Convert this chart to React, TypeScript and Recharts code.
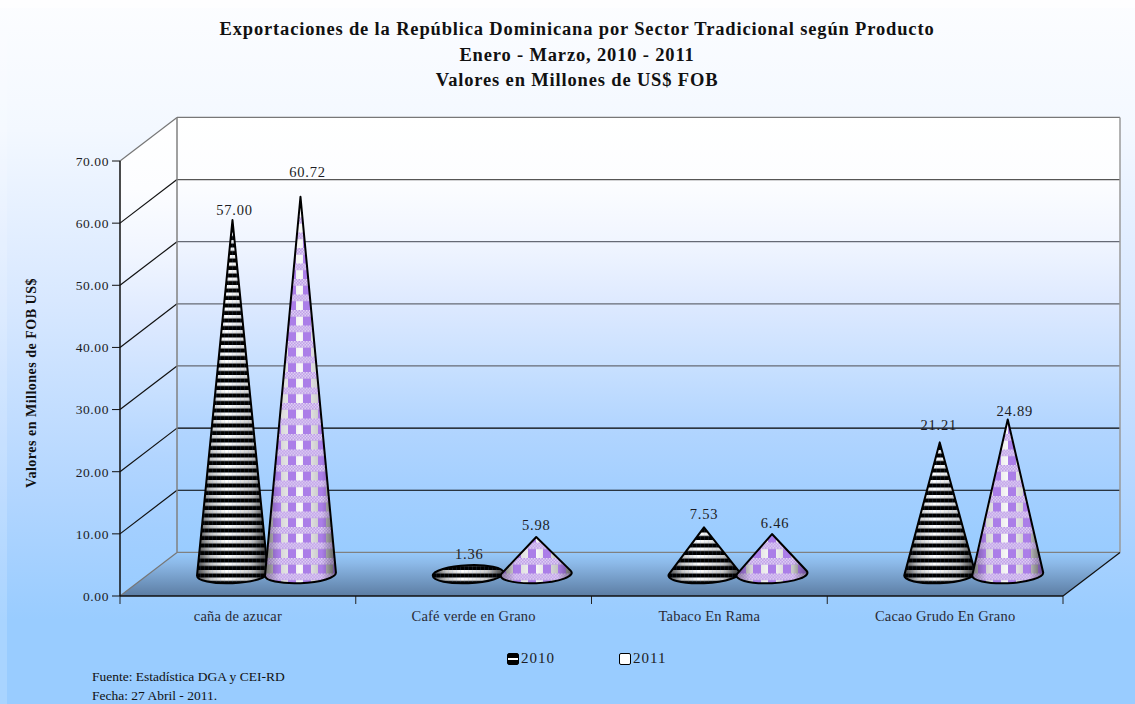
import React from 'react';
import { BarChart, Bar, XAxis, YAxis, Legend, LabelList, Customized } from 'recharts';

const categories = ['caña de azucar', 'Café verde en Grano', 'Tabaco En Rama', 'Cacao Grudo En Grano'];
const values2010 = [57.0, 1.36, 7.53, 21.21];
const values2011 = [60.72, 5.98, 6.46, 24.89];
const yTicks = [0, 10, 20, 30, 40, 50, 60, 70];
const titleLines = [
  'Exportaciones de la República Dominicana por Sector Tradicional según Producto',
  'Enero - Marzo, 2010 - 2011',
  'Valores en Millones de US$ FOB',
];
const yAxisTitle = 'Valores en Millones de FOB US$';
const footerLines = ['Fuente: Estadística DGA y CEI-RD', 'Fecha: 27 Abril - 2011.'];

const table = categories.map((name, i) => ({ name, y2010: values2010[i], y2011: values2011[i] }));

const W = 1135;
const H = 704;
const LEFT = 120;
const RIGHT = 1063;
const TOP = 161;
const BOTTOM = 596;
const DX = 57;
const DY = 43.6;
const YMAX = 70;
const FONT = '"Liberation Serif", serif';
const TXT = '#1c1c24';

const labelNudge2010 = [[2, -9], [1, -11], [0, -12], [-1, -16]];
const labelNudge2011 = [[7, -24], [0, -11], [3, -10], [7, -8]];
const backGridColors = ['#808080', '#000000', '#000000', '#666a75', '#666a75', '#666a75', '#555555', '#777777'];
const sideGridColors = ['#777777', '#111', '#111', '#111', '#111', '#111', '#111', '#777777'];
const legendX = [507, 619];

const yOf = (v: number) => BOTTOM - ((BOTTOM - TOP) * v) / YMAX;

function Defs() {
  const dots = [];
  for (let x = 0; x < 15; x += 3) {
    for (let y = 0; y < 6; y += 3) {
      dots.push(<rect key={`a${x}-${y}`} x={x} y={y} width={1.5} height={1.5} fill="#e2d2f6" />);
      dots.push(<rect key={`b${x}-${y}`} x={x + 1.5} y={y + 1.5} width={1.5} height={1.5} fill="#e2d2f6" />);
    }
  }
  return (
    <defs>
      <linearGradient id="wall" x1="0" y1="0" x2="0" y2="1">
        <stop offset="0" stopColor="#ffffff" />
        <stop offset="0.15" stopColor="#fcfdff" />
        <stop offset="0.29" stopColor="#f0f5ff" />
        <stop offset="0.43" stopColor="#dde9ff" />
        <stop offset="0.57" stopColor="#c8e0ff" />
        <stop offset="0.71" stopColor="#b2d5ff" />
        <stop offset="0.86" stopColor="#a3cfff" />
        <stop offset="1" stopColor="#99ccff" />
      </linearGradient>
      <linearGradient id="floor" x1="0" y1="0" x2="0" y2="1">
        <stop offset="0" stopColor="#97c9fb" />
        <stop offset="0.25" stopColor="#8cb9e8" />
        <stop offset="1" stopColor="#5c7da3" />
      </linearGradient>
      <linearGradient id="shade10" x1="0" y1="0" x2="1" y2="0">
        <stop offset="0" stopColor="#777" />
        <stop offset="0.15" stopColor="#bbb" />
        <stop offset="0.42" stopColor="#fff" />
        <stop offset="0.75" stopColor="#ccc" />
        <stop offset="1" stopColor="#666" />
      </linearGradient>
      <linearGradient id="shade11" x1="0" y1="0" x2="1" y2="0">
        <stop offset="0" stopColor="#aaa" />
        <stop offset="0.25" stopColor="#dcdcdc" />
        <stop offset="0.5" stopColor="#f8f8f8" />
        <stop offset="0.78" stopColor="#c8c8c8" />
        <stop offset="1" stopColor="#999" />
      </linearGradient>
      <linearGradient id="edge" x1="0" y1="0" x2="1" y2="0">
        <stop offset="0" stopColor="#000" stopOpacity="0.35" />
        <stop offset="0.2" stopColor="#000" stopOpacity="0" />
        <stop offset="0.8" stopColor="#000" stopOpacity="0" />
        <stop offset="1" stopColor="#000" stopOpacity="0.4" />
      </linearGradient>
      <pattern id="stripes" patternUnits="userSpaceOnUse" width="4" height="7.5">
        <rect x="0" y="3.6" width="4" height="3.9" fill="#000" />
        <rect x="0" y="3" width="4" height="0.6" fill="#000" opacity="0.4" />
        <rect x="0" y="0" width="0.7" height="7.5" fill="#6f8fc0" opacity="0.22" />
      </pattern>
      <pattern id="plaid" patternUnits="userSpaceOnUse" width="15" height="15.5" patternTransform="translate(3 0)">
        <rect x="0" y="6.5" width="8" height="9" fill="#ab7ee8" />
        <rect x="0" y="0" width="15" height="6.5" fill="#bc9de6" />
        {dots}
      </pattern>
    </defs>
  );
}

function Walls() {
  const back = DY;
  return (
    <g>
      <Defs />
      <polygon points={`${LEFT},${TOP} ${LEFT + DX},${TOP - back} ${LEFT + DX},${BOTTOM - back} ${LEFT},${BOTTOM}`} fill="url(#wall)" />
      <rect x={LEFT + DX} y={TOP - back} width={RIGHT - LEFT} height={BOTTOM - TOP} fill="url(#wall)" />
      <polygon
        points={`${LEFT},${BOTTOM} ${LEFT + DX},${BOTTOM - back} ${RIGHT + DX},${BOTTOM - back} ${RIGHT},${BOTTOM}`}
        fill="url(#floor)"
      />
      {yTicks.map((t, i) => {
        const y = yOf(t);
        return (
          <g key={t}>
            <line x1={LEFT + DX} y1={y - back} x2={RIGHT + DX} y2={y - back} stroke={backGridColors[i]} strokeWidth={1.2} />
            <line x1={LEFT} y1={y} x2={LEFT + DX} y2={y - back} stroke={sideGridColors[i]} strokeWidth={1.2} />
          </g>
        );
      })}
      <line x1={LEFT + DX} y1={TOP - back} x2={LEFT + DX} y2={BOTTOM - back} stroke="#808080" strokeWidth={1.5} />
      <line x1={RIGHT + DX} y1={TOP - back} x2={RIGHT + DX} y2={BOTTOM - back} stroke="#9a9a9a" strokeWidth={1.5} />
      <line x1={RIGHT} y1={BOTTOM} x2={RIGHT + DX} y2={BOTTOM - back} stroke="#111" strokeWidth={1.2} />
      {categories.concat(['']).map((_, i) => {
        const x = LEFT + ((RIGHT - LEFT) * i) / categories.length;
        return <line key={i} x1={x} y1={BOTTOM} x2={x} y2={BOTTOM + 8} stroke="#222" strokeWidth={1} />;
      })}
    </g>
  );
}

function Texts() {
  return (
    <g fontFamily={FONT}>
      {titleLines.map((t, i) => (
        <text key={t} x={577} y={35 + i * 25.5} textAnchor="middle" fontSize={18.5} fontWeight={700} fill="#111" letterSpacing={0.84}>
          {t}
        </text>
      ))}
      <text
        transform="translate(36 383) rotate(-90)"
        textAnchor="middle"
        fontSize={14}
        fontWeight={700}
        fill="#111"
        letterSpacing={0.5}
      >
        {yAxisTitle}
      </text>
      {footerLines.map((t, i) => (
        <text key={t} x={92} y={681 + i * 18.5} fontSize={13.5} fill="#111">
          {t}
        </text>
      ))}
    </g>
  );
}

function conePath(cx: number, baseY: number, apexY: number) {
  const rx = 35.5;
  const ry = 9;
  const rotDeg = -2.5;
  const phi = (2.5 * Math.PI) / 180;
  const c = Math.cos(phi);
  const s = Math.sin(phi);
  const dy = apexY - baseY;
  const lx = -dy * s;
  const ly = dy * c;
  const nx = lx / rx;
  const ny = ly / ry;
  const d = Math.hypot(nx, ny);
  if (d <= 1) {
    const ax = cx - rx * c;
    const ay = baseY + rx * s;
    const bx = cx + rx * c;
    const by = baseY - rx * s;
    return `M${ax},${ay} A${rx},${ry} ${rotDeg} 1 1 ${bx},${by} A${rx},${ry} ${rotDeg} 1 1 ${ax},${ay} Z`;
  }
  const th = Math.atan2(ny, nx);
  const off = Math.acos(1 / d);
  const toScreen = (t: number) => {
    const px = rx * Math.cos(t);
    const py = ry * Math.sin(t);
    return [cx + px * c + py * s, baseY - px * s + py * c];
  };
  const [x1, y1] = toScreen(th - off);
  const [x2, y2] = toScreen(th + off);
  return `M${x1},${y1} L${cx},${apexY} L${x2},${y2} A${rx},${ry} ${rotDeg} 1 1 ${x1},${y1} Z`;
}

const makeCone = (shade: string, texture: string) => (props: any) => {
  const { x, y, width, height } = props;
  const cx = x + width / 2 + DX / 2;
  const baseY = y + height - DY / 2;
  const apexY = y - DY / 2;
  const d = conePath(cx, baseY, apexY);
  return (
    <g>
      <path d={d} fill={`url(#${shade})`} />
      <path d={d} fill={`url(#${texture})`} />
      <path d={d} fill="url(#edge)" />
      <path d={d} fill="none" stroke="#000" strokeWidth={2} strokeLinejoin="round" />
    </g>
  );
};

const makeLabel = (nudge: number[][]) => (props: any) => {
  const { x, y, width, value, index } = props;
  const [nx, ny] = nudge[index];
  return (
    <text
      x={x + width / 2 + DX / 2 + nx}
      y={y - DY / 2 + ny + 4}
      textAnchor="middle"
      fontFamily={FONT}
      fontSize={14.5}
      letterSpacing={0.8}
      fill={TXT}
    >
      {Number(value).toFixed(2)}
    </text>
  );
};

function LegendContent(props: any) {
  const { payload } = props;
  return (
    <div style={{ position: 'relative', height: 20, fontFamily: FONT, fontSize: 15, letterSpacing: 1, color: TXT }}>
      {(payload || []).map((p: any, i: number) => (
        <div key={p.value} style={{ position: 'absolute', left: legendX[i], top: 0, display: 'flex', alignItems: 'center' }}>
          <span
            style={{
              width: 10,
              height: 10,
              border: '1px solid #000',
              borderRadius: 2,
              marginRight: 2,
              display: 'inline-block',
              background: i === 0 ? 'linear-gradient(#000 0 35%, #fff 35% 60%, #000 60%)' : '#fff',
            }}
          />
          <span>{p.value}</span>
        </div>
      ))}
    </div>
  );
}

export default function App() {
  return (
    <div
      style={{
        position: 'absolute',
        left: 0,
        top: 0,
        width: W,
        height: H,
        overflow: 'hidden',
        background:
          'linear-gradient(#fcfdff 0px, #f3f8ff 130px, #d8e8ff 300px, #b3d6ff 490px, #99ccff 620px, #99ccff 704px)',
      }}
    >
      <div style={{ position: 'absolute', left: 0, top: 0, width: 7, height: H, background: 'rgba(255,255,255,0.16)' }} />
      <div style={{ position: 'absolute', left: 0, top: 0, width: W, height: 8, background: 'rgba(255,255,255,0.5)' }} />
      <BarChart
        width={W}
        height={H}
        data={table}
        margin={{ top: TOP, right: W - RIGHT, bottom: 68, left: 0 }}
        barCategoryGap="21.2%"
        barGap={0}
      >
        <Customized component={Walls} />
        <XAxis
          dataKey="name"
          height={40}
          tickLine={false}
          axisLine={{ stroke: '#111', strokeWidth: 1.5 }}
          tick={{ fontFamily: FONT, fontSize: 14.5, fill: '#2a2a35', letterSpacing: 0.2 }}
          tickMargin={9}
          interval={0}
        />
        <YAxis
          type="number"
          width={LEFT}
          domain={[0, YMAX]}
          ticks={yTicks}
          tickSize={8}
          tickMargin={3}
          tickFormatter={(v: number) => v.toFixed(2)}
          tickLine={{ stroke: '#111' }}
          axisLine={{ stroke: '#111', strokeWidth: 1.5 }}
          tick={{ fontFamily: FONT, fontSize: 13.5, fill: TXT, letterSpacing: 0.6 }}
        />
        <Legend
          verticalAlign="middle"
          align="center"
          layout="horizontal"
          wrapperStyle={{ left: 0, top: 650, width: W }}
          content={LegendContent}
        />
        <Bar dataKey="y2010" name="2010" isAnimationActive={false} shape={makeCone('shade10', 'stripes')}>
          <LabelList dataKey="y2010" content={makeLabel(labelNudge2010)} />
        </Bar>
        <Bar dataKey="y2011" name="2011" isAnimationActive={false} shape={makeCone('shade11', 'plaid')}>
          <LabelList dataKey="y2011" content={makeLabel(labelNudge2011)} />
        </Bar>
        <Customized component={Texts} />
      </BarChart>
    </div>
  );
}
